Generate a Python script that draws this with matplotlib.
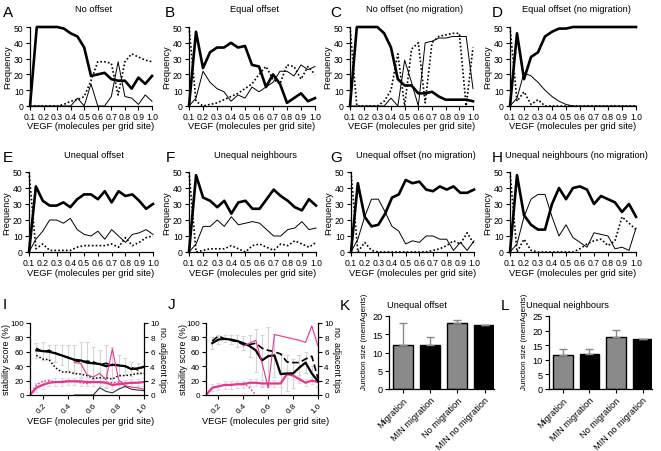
import numpy as np
import matplotlib
matplotlib.use('Agg')
import matplotlib.pyplot as plt

plt.rcParams['font.family'] = ['Liberation Sans', 'DejaVu Sans']

nan = np.nan
vegf = [0.1, 0.15, 0.2, 0.25, 0.3, 0.35, 0.4, 0.45, 0.5, 0.55,
        0.6, 0.65, 0.7, 0.75, 0.8, 0.85, 0.9, 0.95, 1.0]

# frequency panels: thick / thin / dotted
a_thick = [0, 50, 50, 50, 50, 49, 46, 44, 37, 19, 20, 21, 17, 16, 16, 11, 18, 14, 19]
a_thin = [0, 0, 0, 0, 0, 0, 0, 5, 0, 14, 0, 0, 6, 28, 6, 5, 1, 7, 3]
a_dot = [0, 0, 0, 0, 0, 1, 3, 4, 6, 16, 28, 28, 27, 7, 28, 33, 31, 29, 28]

b_thick = [0, 47, 24, 34, 37, 37, 40, 37, 38, 26, 25, 12, 20, 14, 2, 5, 8, 3, 5]
b_thin = [0, 5, 22, 15, 11, 9, 3, 7, 5, 12, 9, 12, 15, 22, 22, 19, 26, 23, 25]
b_dot = [50, 3, 0, 1, 2, 4, 6, 8, 11, 14, 20, 25, 17, 14, 26, 25, 17, 25, 20]

c_thick = [0, 50, 50, 50, 50, 46, 37, 17, 13, 13, 8, 8, 9, 6, 4, 4, 4, 4, 3]
c_thin = [0, 0, 0, 0, 0, 0, 5, 0, 29, 15, 0, 40, 41, 43, 43, 44, 44, 44, 11]
c_dot = [50, 0, 0, 0, 0, 3, 10, 33, 0, 36, 40, 2, 40, 44, 45, 46, 46, 0, 37]

d_thick = [0, 46, 17, 31, 34, 44, 47, 49, 49, 50, 50, 50, 50, 50, 50, 50, 50, 50, 50]
d_thin = [0, 5, 21, 19, 15, 10, 6, 3, 1, 0, 0, 0, 0, 0, 0, 0, 0, 0, 0]
d_dot = [50, 3, 9, 1, 4, 0, 0, 0, 0, 0, 0, 0, 0, 0, 0, 0, 0, 0, 0]

e_thick = [0, 41, 32, 29, 29, 31, 28, 33, 36, 36, 33, 38, 31, 38, 35, 36, 32, 27, 30]
e_thin = [0, 8, 13, 20, 20, 18, 21, 14, 11, 10, 13, 8, 14, 10, 6, 11, 12, 14, 11]
e_dot = [50, 2, 5, 1, 1, 1, 1, 3, 4, 4, 4, 4, 5, 3, 9, 4, 6, 9, 10]

f_thick = [0, 48, 34, 32, 28, 32, 24, 31, 32, 27, 27, 33, 39, 35, 32, 28, 26, 33, 29]
f_thin = [0, 5, 16, 16, 20, 16, 22, 17, 18, 19, 18, 14, 10, 10, 14, 15, 19, 14, 15]
f_dot = [50, 0, 1, 2, 2, 2, 4, 2, 0, 4, 5, 3, 1, 5, 4, 7, 5, 3, 6]

g_thick = [0, 43, 22, 16, 17, 24, 34, 36, 45, 43, 44, 39, 38, 41, 39, 41, 37, 37, 39]
g_thin = [0, 8, 22, 33, 33, 25, 16, 13, 5, 7, 6, 10, 10, 8, 8, 1, 6, 1, 7]
g_dot = [50, 0, 6, 1, 0, 0, 0, 0, 0, 0, 0, 0, 1, 2, 4, 7, 5, 12, 5]

h_thick = [0, 48, 23, 17, 14, 14, 30, 40, 33, 40, 41, 39, 30, 35, 33, 31, 25, 30, 22]
h_thin = [0, 5, 22, 33, 36, 36, 22, 10, 17, 9, 6, 3, 12, 11, 10, 2, 3, 1, 15]
h_dot = [50, 0, 8, 1, 0, 0, 0, 0, 0, 0, 2, 5, 7, 8, 4, 7, 22, 18, 14]

# stability panels
i_thick = [nan, 62, 61, 60, 58, 55, 52, 49, 48, 45, 44, 43, 40, 42, 41, 40, 36, 37, 39]
i_dash = [nan, 65, 60, 62, 58, 55, 52, 48, 46, 47, 46, 42, 44, 42, 42, 40, 38, 35, 40]
i_dot = [nan, 55, 50, 49, 38, 32, 32, 30, 29, 27, 23, 24, 24, 22, 27, 27, 28, 30, 30]
i_err = [0, 10, 12, 10, 12, 14, 18, 20, 25, 28, 22, 20, 30, 25, 15, 12, 10, 8, 8]
i_pink = [0, 10, 14, 17, 18, 18, 19, 19, 19, 18, 18, 18, 17, 14, 15, 16, 17, 17, 18]
i_pink_dot = [0, 14, 19, 20, 18, 19, 20, 19, 17, 16, 18, 17, 18, 17, 18, 17, 16, 17, 18]
i_pink_err = [0, 6, 6, 5, 5, 5, 5, 5, 6, 6, 6, 6, 6, 6, 5, 5, 5, 5, 5]
i_tips_pink = [nan, nan, nan, nan, nan, nan, nan, 4.5, 4.4, 2.8, 2.5, 3.0, 2.1, 6.4, 2.1, 1.3, 1.1, 1.0, 0.8]
i_tips_black = [nan, nan, nan, nan, nan, nan, nan, 0, 0, 0, 0, 1.0, 0.5, 0.3, 0.8, 1.2, 0.8, 0.7, 0.6]

j_thick = [nan, 72, 77, 78, 77, 75, 72, 68, 62, 48, 54, 55, 29, 30, 30, 38, 45, 30, 19]
j_dash = [nan, 75, 82, 78, 76, 74, 70, 70, 72, 65, 62, 60, 57, 46, 45, 45, 50, 54, 23]
j_err = [0, 8, 6, 5, 6, 8, 10, 15, 30, 35, 40, 30, 30, 25, 20, 18, 15, 10, 8]
j_pink = [0, 10, 12, 14, 14, 15, 15, 17, 17, 16, 16, 16, 16, 29, 27, 22, 17, 20, 18]
j_pink_dot = [nan, nan, nan, nan, nan, nan, 17, 10, 0, nan, nan, nan, nan, nan, nan, nan, nan, nan, nan]
j_pink_err = [0, 5, 5, 5, 5, 5, 5, 5, 5, 5, 5, 5, 5, 6, 6, 6, 5, 5, 5]
j_tips_pink = [nan, nan, nan, nan, nan, nan, 6.8, 7.2, 7.6, 4.5, 1.0, 8.4, 8.2, 8.0, 7.8, 7.6, 7.3, 9.6, 6.8]

# junction size bars
bar_labels = ['Migration', 'MIN migration', 'No migration', 'MIN no migration']
k_vals = [12.1, 12.1, 18.1, 17.5]
k_err = [6.0, 2.2, 0.7, 0]
l_vals = [11.8, 12.1, 17.9, 17.1]
l_err = [1.9, 1.7, 2.3, 0]

W, H = 661, 452
fig = plt.figure(figsize=(W / 100, H / 100), dpi=100)
PINK = '#e6358f'


def px_axes(l, r, t, b):
    return fig.add_axes([l / W, 1 - b / H, (r - l) / W, (b - t) / H])


def put(x, y, s, size=6.7, **kw):
    fig.text(x / W, 1 - y / H, s, fontsize=size, **kw)


def prism(ax, right=False, size=6.2):
    ax.spines['top'].set_visible(False)
    if not right:
        ax.spines['right'].set_visible(False)
    for sp in ax.spines.values():
        sp.set_linewidth(0.9)
    ax.tick_params(direction='out', length=3, width=0.8, labelsize=size, pad=1.5)
    ax.patch.set_alpha(0)


def freq_panel(l, r, t, b, title, letter, lx, thick, thin, dot):
    ax = px_axes(l, r, t, b)
    ax.plot(vegf, dot, color='k', lw=1.2, ls=(0, (1, 1.3)), clip_on=False)
    ax.plot(vegf, thin, color='k', lw=0.7, clip_on=False)
    ax.plot(vegf, thick, color='k', lw=1.9, clip_on=False)
    ax.set_xlim(0.1, 1.0)
    ax.set_ylim(0, 50)
    ax.set_xticks(np.arange(1, 11) / 10)
    ax.set_xticklabels(['%.1f' % (v / 10) for v in range(1, 11)])
    ax.set_yticks(range(0, 51, 10))
    prism(ax)
    put((l + r) / 2 + 3, t - 18, title, ha='center', va='center')
    put(l - 22, (t + b) / 2, 'Frequency', rotation=90, ha='center', va='center')
    put((l + r) / 2, b + 20, 'VEGF (molecules per grid site)', ha='center', va='center')
    put(lx, t - 15, letter, size=11, ha='left', va='center')
    return ax


freq_panel(30, 152, 28, 107, 'No offset', 'A', 3, a_thick, a_thin, a_dot)
freq_panel(189, 315, 28, 107, 'Equal offset', 'B', 165, b_thick, b_thin, b_dot)
freq_panel(350, 473, 28, 107, 'No offset (no migration)', 'C', 330, c_thick, c_thin, c_dot)
freq_panel(510, 636, 28, 107, 'Equal offset (no migration)', 'D', 492, d_thick, d_thin, d_dot)
freq_panel(29, 153, 173, 253, 'Unequal offset', 'E', 3, e_thick, e_thin, e_dot)
freq_panel(189, 316, 173, 253, 'Unequal neighbours', 'F', 166, f_thick, f_thin, f_dot)
freq_panel(351, 474, 173, 253, 'Unequal offset (no migration)', 'G', 330, g_thick, g_thin, g_dot)
freq_panel(510, 636, 173, 253, 'Unequal neighbours (no migration)', 'H', 492, h_thick, h_thin, h_dot)


def stab_panel(l, r, t, b, letter, lx, thick, dash, err, pink, pink_dot, pink_err,
               tips_pink, tips_black=None, dot=None):
    ax = px_axes(l, r, t, b)
    ax.errorbar(vegf, thick, yerr=err, fmt='none', ecolor='#d4d4d4', elinewidth=0.8,
                capsize=1.5, capthick=0.8)
    ax.errorbar(vegf, pink, yerr=pink_err, fmt='none', ecolor='#dcdcdc', elinewidth=0.8,
                capsize=1.5, capthick=0.8)
    ax2 = ax.twinx()
    ax2.plot(vegf, tips_pink, color=PINK, lw=0.8)
    if tips_black is not None:
        ax2.plot(vegf, tips_black, color='#333333', lw=0.8)
    ax2.set_ylim(0, 10)
    ax2.set_yticks(range(0, 11, 2))
    if dot is not None:
        ax.plot(vegf, dot, color='k', lw=1.1, ls=(0, (1, 1.3)))
    ax.plot(vegf, dash, color='k', lw=1.2, ls=(0, (4, 2)))
    ax.plot(vegf, pink_dot, color=PINK, lw=1.1, ls=(0, (1, 1.3)))
    ax.plot(vegf, pink, color=PINK, lw=1.6)
    ax.plot(vegf, thick, color='k', lw=1.6)
    ax.set_xlim(0.1, 1.0)
    ax.set_ylim(0, 100)
    ax.set_yticks(range(0, 101, 20))
    ax.set_xticks([0.2, 0.4, 0.6, 0.8, 1.0])
    ax.set_xticklabels(['0.2', '0.4', '0.6', '0.8', '1.0'], rotation=45, ha='right',
                       rotation_mode='anchor')
    prism(ax, size=5.9)
    prism(ax2, right=True, size=5.9)
    ax2.spines['left'].set_visible(False)
    ax2.spines['bottom'].set_visible(False)
    put(l - 23, (t + b) / 2, 'stability score (%)', size=6.4, rotation=90,
        ha='center', va='center')
    put(r + 19, (t + b) / 2, 'no. adjacent tips', size=6.4, rotation=270,
        ha='center', va='center')
    put((l + r) / 2 + 4, b + 26, 'VEGF (molecules per grid site)', ha='center', va='center')
    put(lx, t - 19, letter, size=11, ha='left', va='center')


stab_panel(30, 144, 324, 396, 'I', 3, i_thick, i_dash, i_err, i_pink, i_pink_dot,
           i_pink_err, i_tips_pink, i_tips_black, i_dot)
stab_panel(206, 318, 324, 396, 'J', 168, j_thick, j_dash, j_err, j_pink, j_pink_dot,
           j_pink_err, j_tips_pink)


def bar_panel(l, r, t, b, title, letter, lx, vals, errs, ytop, tx):
    ax = px_axes(l, r, t, b)
    x = np.arange(len(vals))
    cols = ['#8a8a8a', '#000000', '#8a8a8a', '#000000']
    ax.bar(x, vals, width=0.74, color=cols, edgecolor='k', linewidth=1.0)
    lower = [0] * len(errs)
    ax.errorbar(x, vals, yerr=[lower, errs], fmt='none', ecolor='#8a8a8a',
                elinewidth=1.0, capsize=3, capthick=1.0)
    ax.set_xlim(-0.52, 3.35)
    ax.set_ylim(0, ytop)
    ax.set_yticks(range(0, ytop + 1, 5))
    ax.set_xticks(x)
    ax.set_xticklabels(bar_labels, rotation=45, ha='right', rotation_mode='anchor')
    prism(ax, size=6.6)
    put(tx, t - 12, title, ha='center', va='center')
    put(l - 24, 342, 'Junction size (memAgents)', size=5.8, rotation=90,
        ha='center', va='center')
    put(lx, t - 11, letter, size=11, ha='left', va='center')


bar_panel(389, 494, 317, 390, 'Unequal offset', 'K', 340, k_vals, k_err, 20, 417)
bar_panel(549, 652, 317, 390, 'Unequal neighbours', 'L', 501, l_vals, l_err, 25, 567)

fig.savefig('out.png', dpi=100)
